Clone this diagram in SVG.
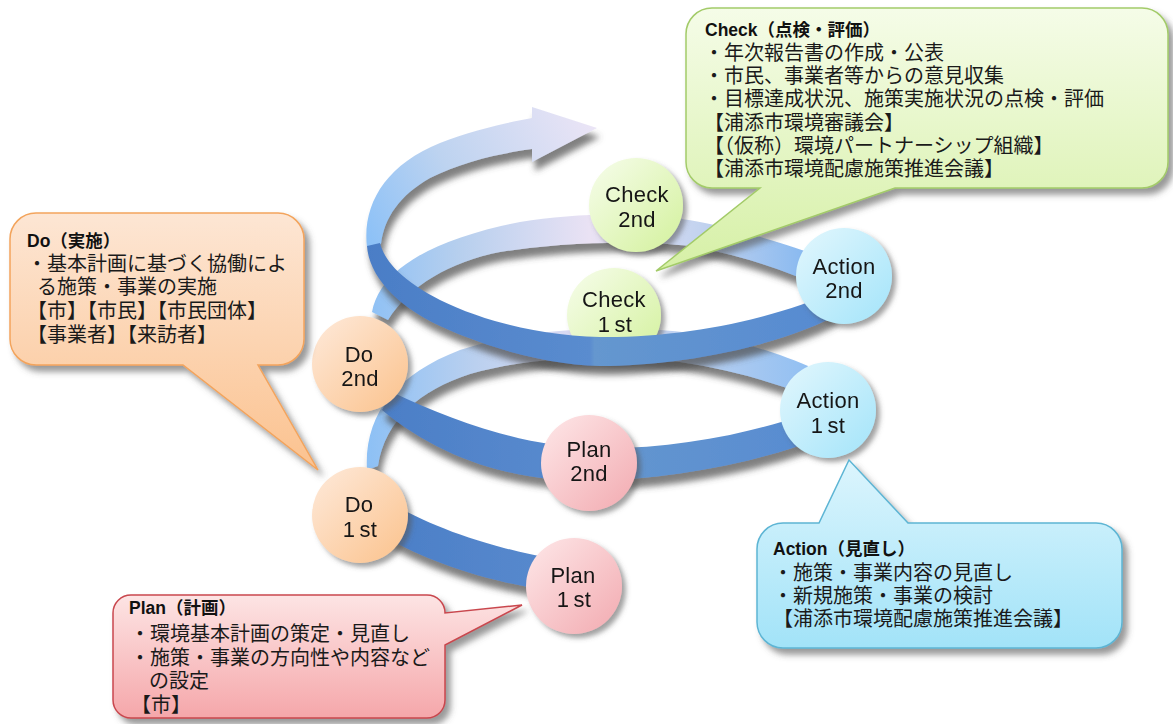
<svg xmlns="http://www.w3.org/2000/svg" width="1173" height="724" viewBox="0 0 1173 724">
<style>
.lbl{font-family:"Liberation Sans","Noto Sans",sans-serif;font-size:22px;letter-spacing:0.3px;fill:#151515;text-anchor:middle}
.ct{font-family:"Liberation Sans","Noto Sans CJK JP",sans-serif;font-size:20px;fill:#1a1a1a}
.ttl{font-size:17.5px;font-weight:bold;fill:#111}
</style>
<defs>
<filter id="bandSh" x="-10%" y="-20%" width="130%" height="160%">
<feGaussianBlur in="SourceAlpha" stdDeviation="3"/><feOffset dx="3" dy="9" result="b"/>
<feFlood flood-color="#4a4a4a" flood-opacity="0.7"/><feComposite in2="b" operator="in"/>
<feMerge><feMergeNode/><feMergeNode in="SourceGraphic"/></feMerge></filter>
<filter id="cirSh" x="-20%" y="-20%" width="150%" height="150%">
<feGaussianBlur in="SourceAlpha" stdDeviation="2.5"/><feOffset dx="4" dy="4" result="b"/>
<feFlood flood-color="#555" flood-opacity="0.55"/><feComposite in2="b" operator="in"/>
<feMerge><feMergeNode/><feMergeNode in="SourceGraphic"/></feMerge></filter>
<filter id="boxSh" x="-10%" y="-10%" width="125%" height="130%">
<feGaussianBlur in="SourceAlpha" stdDeviation="3"/><feOffset dx="5" dy="6" result="b"/>
<feFlood flood-color="#555" flood-opacity="0.6"/><feComposite in2="b" operator="in"/>
<feMerge><feMergeNode/><feMergeNode in="SourceGraphic"/></feMerge></filter>
<linearGradient id="gCheck" x1="0" y1="0" x2="1" y2="1"><stop offset="0" stop-color="#f7fdec"/><stop offset="1" stop-color="#d3f19c"/></linearGradient>
<linearGradient id="gAction" x1="0" y1="0" x2="1" y2="1"><stop offset="0" stop-color="#e3f7fd"/><stop offset="1" stop-color="#a3e4fa"/></linearGradient>
<linearGradient id="gPlan" x1="0" y1="0" x2="1" y2="1"><stop offset="0" stop-color="#fee8e9"/><stop offset="1" stop-color="#f2aab0"/></linearGradient>
<linearGradient id="gDo" x1="0" y1="0" x2="1" y2="1"><stop offset="0" stop-color="#feeadb"/><stop offset="1" stop-color="#fbc28c"/></linearGradient>
<linearGradient id="bCheck" x1="0" y1="0" x2="0" y2="1"><stop offset="0" stop-color="#f5fce8"/><stop offset="1" stop-color="#d6f0a6"/></linearGradient>
<linearGradient id="bDo" x1="0" y1="0" x2="0" y2="1"><stop offset="0" stop-color="#fde6d4"/><stop offset="1" stop-color="#fbc28f"/></linearGradient>
<linearGradient id="bPlan" x1="0" y1="0" x2="0" y2="1"><stop offset="0" stop-color="#fde4e4"/><stop offset="1" stop-color="#f5a7aa"/></linearGradient>
<linearGradient id="bAction" x1="0" y1="0" x2="0" y2="1"><stop offset="0" stop-color="#dcf5fd"/><stop offset="1" stop-color="#a2e3f8"/></linearGradient>
<linearGradient id="gFront" gradientUnits="userSpaceOnUse" x1="360" y1="0" x2="820" y2="0"><stop offset="0" stop-color="#4a7dc6"/><stop offset="0.5" stop-color="#5a8ccf"/><stop offset="0.51" stop-color="#6597cf"/><stop offset="1" stop-color="#578bd1"/></linearGradient>
<linearGradient id="gBackD" gradientUnits="userSpaceOnUse" x1="370" y1="0" x2="810" y2="0"><stop offset="0" stop-color="#8fc1f5"/><stop offset="0.2" stop-color="#b6cfee"/><stop offset="0.5" stop-color="#eae2f4"/><stop offset="0.75" stop-color="#c3d3ef"/><stop offset="1" stop-color="#86b8f0"/></linearGradient>
<linearGradient id="gBackB" gradientUnits="userSpaceOnUse" x1="365" y1="0" x2="805" y2="0"><stop offset="0" stop-color="#8cc0f5"/><stop offset="0.25" stop-color="#bad0ef"/><stop offset="0.5" stop-color="#dfdcf3"/><stop offset="0.75" stop-color="#b8cff0"/><stop offset="1" stop-color="#93c0f2"/></linearGradient>
<linearGradient id="gArrow" gradientUnits="userSpaceOnUse" x1="367" y1="240" x2="597" y2="120"><stop offset="0" stop-color="#8cc1f7"/><stop offset="0.4" stop-color="#bdd3f0"/><stop offset="1" stop-color="#ece5f6"/></linearGradient>
</defs>
<rect width="1173" height="724" fill="#ffffff"/>

<g id="connectors">
  <g id="back-bands" filter="url(#bandSh)">
    <path id="band-D" fill="url(#gBackD)" d="M372,312 C380,270 430,240 520,222 C580,212 650,212 700,222 C745,231 780,243 808,252 L806,280 C770,265 730,253 690,246 C640,240 560,242 500,252 C450,262 410,285 388,320 Z"/>
    <path id="band-arrow" fill="url(#gArrow)" d="M367,247 C362,205 385,165 440,143 C470,131 500,124 532,118 L532,107 L597,128 L532,162 L532,149 C495,154 460,163 430,178 C400,195 384,218 381,244 Z"/>
    <path id="band-B" fill="url(#gBackB)" d="M367,470 C364,415 395,375 460,350 C520,330 600,326 660,330 C720,334 770,350 808,366 L798,392 C760,378 720,368 680,362 C610,355 530,356 470,374 C420,390 385,420 378,466 Z"/>
  </g>
</g>

<g id="node-check1" filter="url(#cirSh)">
  <circle cx="614" cy="315" r="47" fill="url(#gCheck)"/>
  <text class="lbl" x="614" y="307">Check</text>
  <text class="lbl" x="615" y="332"><tspan>1</tspan><tspan dx="4">st</tspan></text>
</g>
<g id="node-check2" filter="url(#cirSh)">
  <circle cx="636" cy="205" r="47" fill="url(#gCheck)"/>
  <text class="lbl" x="637" y="202">Check</text>
  <text class="lbl" x="637" y="227">2nd</text>
</g>

<g id="connectors-front" filter="url(#bandSh)">
  <path id="band-E" fill="url(#gFront)" d="M367,246 C369,275 395,305 440,326 C490,349 550,365 600,366 C670,366 770,350 835,316 L828,294 C770,320 680,338 600,337 C540,336 480,320 440,300 C405,282 385,263 380,243 Z"/>
  <path id="band-C" fill="url(#gFront)" d="M392,392 C450,420 520,445 589,448 C660,450 730,438 795,418 L805,444 C740,466 660,480 589,481 C510,481 440,458 382,410 Z"/>
  <path id="band-A" fill="url(#gFront)" d="M390,503 C430,525 480,546 560,560 L556,592 C480,580 430,562 385,537 Z"/>
</g>

<g id="node-do1" filter="url(#cirSh)">
  <circle cx="360" cy="515" r="48" fill="url(#gDo)"/>
  <text class="lbl" x="359" y="512">Do</text>
  <text class="lbl" x="360" y="537"><tspan>1</tspan><tspan dx="4">st</tspan></text>
</g>
<g id="node-plan1" filter="url(#cirSh)">
  <circle cx="574" cy="586" r="48" fill="url(#gPlan)"/>
  <text class="lbl" x="573" y="583">Plan</text>
  <text class="lbl" x="574" y="607"><tspan>1</tspan><tspan dx="4">st</tspan></text>
</g>
<g id="node-action1" filter="url(#cirSh)">
  <circle cx="828" cy="410" r="48" fill="url(#gAction)"/>
  <text class="lbl" x="828" y="408">Action</text>
  <text class="lbl" x="828" y="433"><tspan>1</tspan><tspan dx="4">st</tspan></text>
</g>
<g id="node-plan2" filter="url(#cirSh)">
  <circle cx="589" cy="463" r="48" fill="url(#gPlan)"/>
  <text class="lbl" x="589" y="457">Plan</text>
  <text class="lbl" x="589" y="481">2nd</text>
</g>
<g id="node-do2" filter="url(#cirSh)">
  <circle cx="360" cy="364" r="48" fill="url(#gDo)"/>
  <text class="lbl" x="359" y="362">Do</text>
  <text class="lbl" x="360" y="386">2nd</text>
</g>
<g id="node-action2" filter="url(#cirSh)">
  <circle cx="844" cy="276" r="48" fill="url(#gAction)"/>
  <text class="lbl" x="844" y="274">Action</text>
  <text class="lbl" x="844" y="298">2nd</text>
</g>

<g id="callout-check">
  <path filter="url(#boxSh)" fill="url(#bCheck)" stroke="#a3cb69" stroke-width="1.5" d="M712,8 H1142 A26,26 0 0 1 1168,34 V162 A26,26 0 0 1 1142,188 H895 L656,271 L760,188 H712 A26,26 0 0 1 686,162 V34 A26,26 0 0 1 712,8 Z"/>
  <text class="ct"><tspan class="ttl" x="705" y="36">Check（点検・評価）</tspan><tspan x="704" y="60">・年次報告書の作成・公表</tspan><tspan x="704" y="83">・市民、事業者等からの意見収集</tspan><tspan x="704" y="106">・目標達成状況、施策実施状況の点検・評価</tspan><tspan x="704" y="130">【浦添市環境審議会】</tspan><tspan x="704" y="153">【（仮称）環境パートナーシップ組織】</tspan><tspan x="704" y="176">【浦添市環境配慮施策推進会議】</tspan></text>
</g>

<g id="callout-do">
  <path filter="url(#boxSh)" fill="url(#bDo)" stroke="#f3a45c" stroke-width="1.5" d="M36,213 H278 A26,26 0 0 1 304,239 V339 A26,26 0 0 1 278,365 H258 L318,470 L183,365 H36 A26,26 0 0 1 10,339 V239 A26,26 0 0 1 36,213 Z"/>
  <text class="ct"><tspan class="ttl" x="27" y="247">Do（実施）</tspan><tspan x="27" y="271">・基本計画に基づく協働によ</tspan><tspan x="37" y="294">る施策・事業の実施</tspan><tspan x="27" y="318">【市】【市民】【市民団体】</tspan><tspan x="27" y="342">【事業者】【来訪者】</tspan></text>
</g>

<g id="callout-plan">
  <path filter="url(#boxSh)" fill="url(#bPlan)" stroke="#c9474e" stroke-width="1.5" d="M131,595 H427 A18,18 0 0 1 445,613 L522,605 L445,645 V700 A18,18 0 0 1 427,718 H131 A18,18 0 0 1 113,700 V613 A18,18 0 0 1 131,595 Z"/>
  <text class="ct"><tspan class="ttl" x="129" y="614">Plan（計画）</tspan><tspan x="130" y="641">・環境基本計画の策定・見直し</tspan><tspan x="130" y="665">・施策・事業の方向性や内容など</tspan><tspan x="149" y="688">の設定</tspan><tspan x="131" y="712">【市】</tspan></text>
</g>

<g id="callout-action">
  <path filter="url(#boxSh)" fill="url(#bAction)" stroke="#5db5d4" stroke-width="1.5" d="M783,523 H819 L849,460 L908,523 H1096 A26,26 0 0 1 1122,549 V622 A26,26 0 0 1 1096,648 H783 A26,26 0 0 1 757,622 V549 A26,26 0 0 1 783,523 Z"/>
  <text class="ct"><tspan class="ttl" x="773" y="555">Action（見直し）</tspan><tspan x="773" y="580">・施策・事業内容の見直し</tspan><tspan x="773" y="603">・新規施策・事業の検討</tspan><tspan x="773" y="626">【浦添市環境配慮施策推進会議】</tspan></text>
</g>
</svg>
